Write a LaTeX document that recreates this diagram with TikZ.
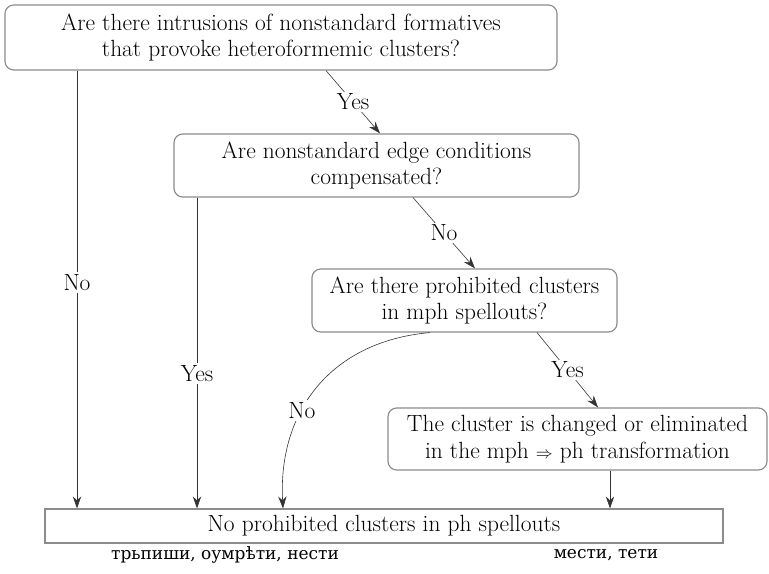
\documentclass[tikz,border=0pt]{standalone}
\usepackage{fontspec}
\usepackage{tikz}
\usetikzlibrary{arrows.meta}
\newfontfamily\slavfont{DejaVu Serif}

\begin{document}
\begin{tikzpicture}[
	every node/.style={font=\fontsize{20}{22.5}\selectfont},
	question/.style={draw=black!45, line width=1pt, rounded corners=2.6mm, align=center, inner sep=3pt},
	outcome/.style={draw=black!45, line width=1pt, align=center, inner sep=3pt},
	link/.style={draw=black!80, line width=0.5pt, -{Stealth[length=3.6mm,width=2.5mm,inset=1.2mm]}},
	lbl/.style={fill=white, inner sep=2pt}
	]
	\useasboundingbox (0,0) rectangle (23.07,17.19);
	
	% Questions
	\node[
	question,
	minimum width=16.56cm,
	minimum height=1.95cm
	] (q1) at (8.43,16.065)
	{Are there intrusions of nonstandard formatives\\that provoke heteroformemic clusters?};
	
	\node[
	question,
	minimum width=12.15cm,
	minimum height=1.89cm
	] (q2) at (11.295,12.225)
	{Are nonstandard edge conditions\\compensated?};
	
	\node[
	question,
	minimum width=9.15cm,
	minimum height=1.89cm
	] (q3) at (13.935,8.175)
	{Are there prohibited clusters\\in mph spellouts?};
	
	\node[
	question,
	minimum width=11.37cm,
	minimum height=1.86cm
	] (q4) at (17.325,4.02)
	{The cluster is changed or eliminated\\in the mph {\fontsize{14}{14}\selectfont$\Rightarrow$} ph transformation};
	
	% Result
	\node[
	outcome,
	minimum width=20.34cm,
	minimum height=1.02cm
	] (res) at (11.52,1.41)
	{No prohibited clusters in ph spellouts};
	
	% Examples
	\node[font=\slavfont\fontsize{14.5}{16}\selectfont] (ex1) at (6.75,0.54) {трьпиши, оумрѣти, нести};
	\node[font=\slavfont\fontsize{14.5}{16}\selectfont] (ex2) at (18.18,0.54) {мести, тети};
	
	% Decision lines
	\draw[link] (q1.south -| 2.31,0) -- node[lbl, pos=0.485] {No} (res.north -| 2.31,0);
	\draw[link] (q1.south -| 9.78,0) -- node[lbl] {Yes} (q2.north -| 11.40,0);
	\draw[link] (q2.south -| 5.91,0) -- node[lbl, pos=0.567] {Yes} (res.north -| 5.91,0);
	\draw[link] (q2.south -| 12.39,0) -- node[lbl] {No} (q3.north -| 14.25,0);
	\draw[link] (q3.south -| 12.90,0) to[out=185, in=93, looseness=1.1] node[lbl, pos=0.62] {No} (res.north -| 8.49,0);
	\draw[link] (q3.south -| 16.11,0) -- node[lbl] {Yes} (q4.north -| 17.94,0);
	\draw[link] (q4.south -| 18.30,0) -- (res.north -| 18.30,0);
\end{tikzpicture}
\end{document}
